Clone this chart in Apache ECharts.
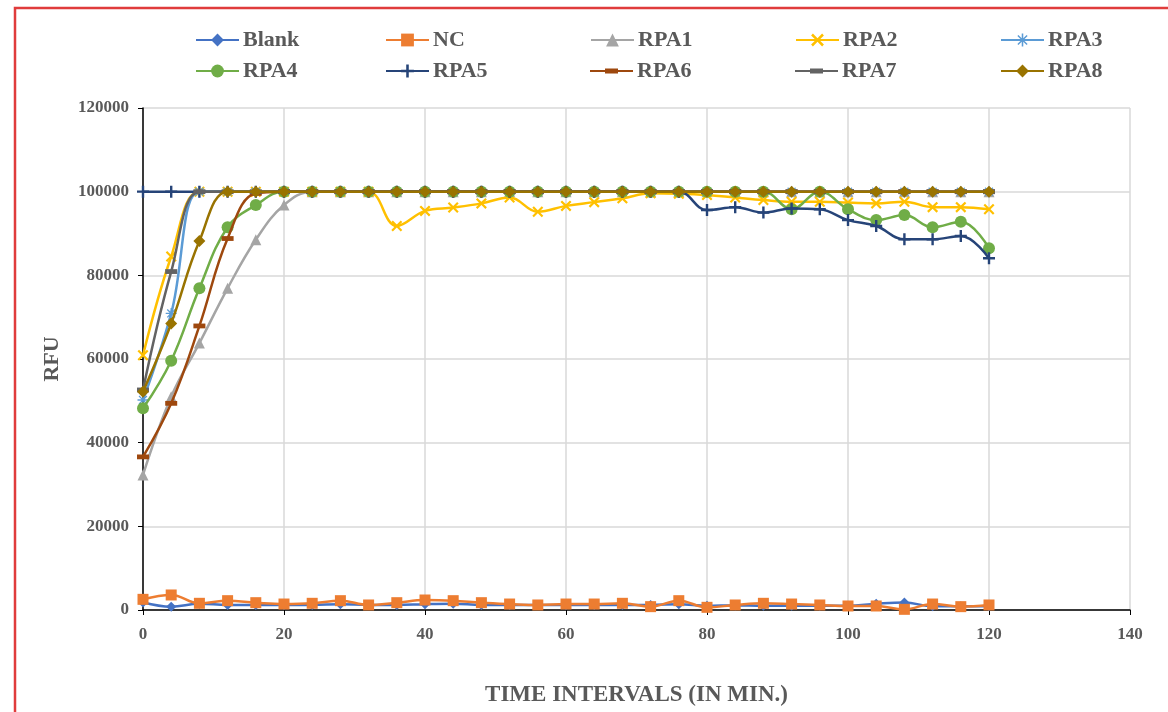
<!DOCTYPE html>
<html><head><meta charset="utf-8">
<script src="https://cdn.jsdelivr.net/npm/echarts@6/dist/echarts.min.js"></script>
<style>html,body{margin:0;padding:0;background:#fff}#c{width:1168px;height:712px}</style>
</head><body><div id="c"></div>
<script>
const times = [0,4,8,12,16,20,24,28,32,36,40,44,48,52,56,60,64,68,72,76,80,84,88,92,96,100,104,108,112,116,120];
const seriesNames = ['Blank','NC','RPA1','RPA2','RPA3','RPA4','RPA5','RPA6','RPA7','RPA8'];
const blank = [1800,800,1500,1200,1200,1200,1200,1400,1200,1200,1400,1500,1200,1200,1200,1200,1200,1200,1200,1400,1000,1100,1000,1000,1000,1000,1500,1800,900,900,900];
const nc = [2550,3590,1600,2230,1750,1430,1600,2230,1200,1750,2390,2230,1750,1430,1200,1430,1430,1600,800,2230,640,1200,1600,1430,1200,960,960,160,1430,800,1200];
const rpa1 = [32300,51000,63800,76900,88500,96800,100000,100000,100000,100000,100000,100000,100000,100000,100000,100000,100000,100000,100000,100000,100000,100000,100000,100000,100000,100000,100000,100000,100000,100000,100000];
const rpa2 = [60900,84500,100000,100000,100000,100000,100000,100000,100000,91800,95400,96200,97200,98600,95200,96600,97500,98400,99600,99500,99200,98600,98000,97600,97600,97400,97200,97600,96300,96300,95800];
const rpa3 = [50200,70900,100000,100000,100000,100000,100000,100000,100000,100000,100000,100000,100000,100000,100000,100000,100000,100000,100000,100000,100000,100000,100000,100000,100000,100000,100000,100000,100000,100000,100000];
const rpa4 = [48200,59600,76900,91500,96800,100000,100000,100000,100000,100000,100000,100000,100000,100000,100000,100000,100000,100000,100000,100000,100000,100000,100000,95800,100000,95800,93200,94400,91500,92800,86500];
const rpa5 = [100000,100000,100000,100000,100000,100000,100000,100000,100000,100000,100000,100000,100000,100000,100000,100000,100000,100000,100000,100000,95600,96300,95000,96000,95800,93200,91800,88600,88600,89400,84100];
const rpa6 = [36600,49400,67900,88800,99600,100000,100000,100000,100000,100000,100000,100000,100000,100000,100000,100000,100000,100000,100000,100000,100000,100000,100000,100000,100000,100000,100000,100000,100000,100000,100000];
const rpa7 = [52600,80900,100000,100000,100000,100000,100000,100000,100000,100000,100000,100000,100000,100000,100000,100000,100000,100000,100000,100000,100000,100000,100000,100000,100000,100000,100000,100000,100000,100000,100000];
const rpa8 = [52200,68500,88200,100000,100000,100000,100000,100000,100000,100000,100000,100000,100000,100000,100000,100000,100000,100000,100000,100000,100000,100000,100000,100000,100000,100000,100000,100000,100000,100000,100000];
const values = [blank,nc,rpa1,rpa2,rpa3,rpa4,rpa5,rpa6,rpa7,rpa8];
const xTicks = [0,20,40,60,80,100,120,140];
const yTicks = [0,20000,40000,60000,80000,100000,120000];

const colors = ['#4472C4','#ED7D31','#A5A5A5','#FFC000','#5B9BD5','#70AD47','#264478','#9E480E','#636363','#997300'];
const PLUS = 'path://M4,0H6V4H10V6H6V10H4V6H0V4H4Z';
const XS = 'path://M1.4,0L5,3.6L8.6,0L10,1.4L6.4,5L10,8.6L8.6,10L5,6.4L1.4,10L0,8.6L3.6,5L0,1.4Z';
const AST = 'path://M4.4,0H5.6V3.6L8.2,1L9,1.8L6.4,4.4H10V5.6H6.4L9,8.2L8.2,9L5.6,6.4V10H4.4V6.4L1.8,9L1,8.2L3.6,5.6H0V4.4H3.6L1,1.8L1.8,1L4.4,3.6Z';
const DASH = 'path://M0,3H10V7H0Z';
const DASH_LEGEND = 'path://M0,0H0.01V0.01H0Z M0,7H43V9H0Z M15,5.5H28V10.5H15Z M42.99,15.99H43V16H42.99Z';
const symbols = ['diamond','rect','triangle',XS,AST,'circle',PLUS,DASH,DASH,'diamond'];
const sizes = [10,11,11,11,11,12,12,12,12,12];
const keepAspect = [false,false,false,false,false,false,false,true,true,false];

const font = 'Liberation Serif';
const series = seriesNames.map((n,i)=>({
  name:n, type:'line', smooth:0.4,
  data: times.map((t,j)=>[t, values[i][j]]),
  symbol: symbols[i], symbolSize: sizes[i], symbolKeepAspect: keepAspect[i], showAllSymbol:true,
  lineStyle:{color:colors[i], width:2.5},
  itemStyle:{color:colors[i]},
  z: 2+i
}));

const colX = [190,380,585,790,995];
const rowY = [24,55];
const legends = seriesNames.map((n,i)=>({
  data:[ keepAspect[i] ? {name:n, icon:DASH_LEGEND} : n ],
  left: colX[i%5], top: rowY[Math.floor(i/5)],
  itemWidth:43, itemHeight:16, itemGap:0,
  textStyle:{fontFamily:font, fontWeight:'bold', fontSize:22, color:'#595959', padding:[0,0,0,-1]},
  selectedMode:false
}));

const chart = echarts.init(document.getElementById('c'));
chart.setOption({
  animation:false,
  backgroundColor:'#fff',
  legend: legends,
  grid:{left:143, top:108, right:38, bottom:102, containLabel:false, outerBoundsMode:'none'},
  xAxis:{type:'value', min:0, max:140, interval:20,
    name:'TIME INTERVALS (IN MIN.)', nameLocation:'middle', nameGap:74,
    nameTextStyle:{fontFamily:font, fontWeight:'bold', fontSize:23, color:'#595959'},
    axisLine:{lineStyle:{color:'#000', width:1.5}},
    axisTick:{show:true, length:5, lineStyle:{color:'#000'}},
    axisLabel:{fontFamily:font, fontWeight:'bold', fontSize:17, color:'#595959', margin:16,
      formatter:v=> xTicks.indexOf(v)>=0 ? String(v) : ''},
    splitLine:{show:true, lineStyle:{color:'#D9D9D9', width:1.5}}
  },
  yAxis:{type:'value', min:0, max:120000, interval:20000,
    name:'RFU', nameLocation:'middle', nameGap:80,
    nameTextStyle:{fontFamily:font, fontWeight:'bold', fontSize:22, color:'#595959'},
    axisLine:{show:true, lineStyle:{color:'#000', width:1.5}},
    axisTick:{show:true, length:5, lineStyle:{color:'#000'}},
    axisLabel:{fontFamily:font, fontWeight:'bold', fontSize:17, color:'#595959', margin:14,
      formatter:v=> yTicks.indexOf(v)>=0 ? String(v) : ''},
    splitLine:{show:true, lineStyle:{color:'#D9D9D9', width:1.5}}
  },
  graphic:[{type:'rect', shape:{x:15, y:8, width:1170, height:720}, style:{fill:'none', stroke:'#E03C3C', lineWidth:2.5}, silent:true, z:100}],
  series: series
});
</script></body></html>
